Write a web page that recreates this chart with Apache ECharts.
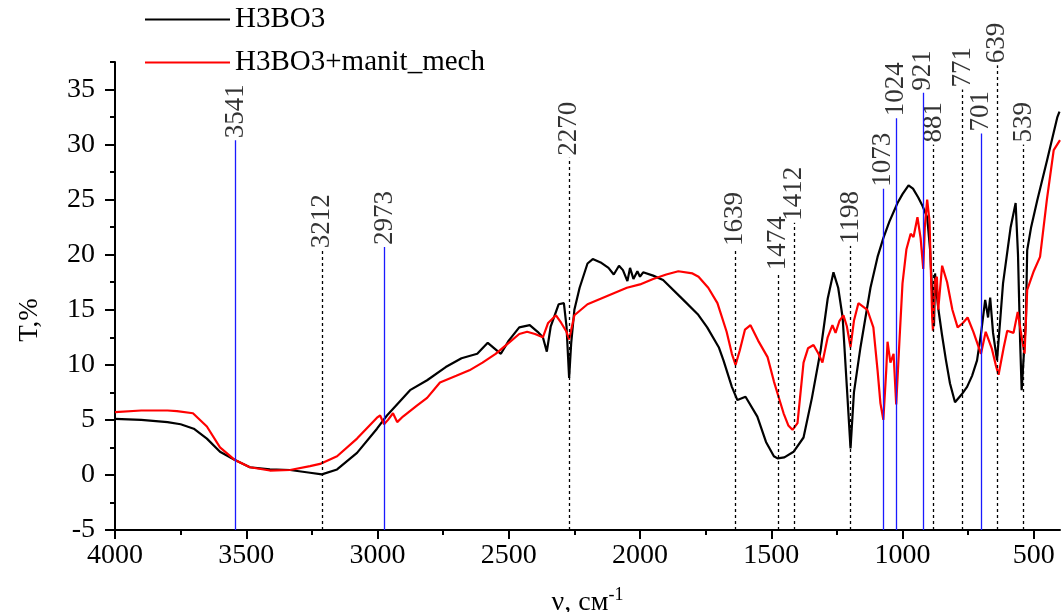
<!DOCTYPE html>
<html>
<head>
<meta charset="utf-8">
<script src="https://cdn.jsdelivr.net/npm/echarts@6/dist/echarts.min.js"></script>
<style>
  html, body { margin: 0; padding: 0; background: #fff; }
  #main { width: 1062px; height: 612px; }
</style>
</head>
<body>
<div id="main"></div>
<script>
// H3BO3 spectrum (wavenumber, T %)
const h3bo3Nu = [4000, 3900, 3800, 3750, 3700, 3650, 3600, 3543, 3486, 3410, 3333, 3257, 3212, 3154, 3078, 3002, 2964, 2876, 2811, 2740, 2680, 2620, 2580, 2555, 2530, 2500, 2460, 2420, 2390, 2370, 2355, 2340, 2310, 2290, 2280, 2270, 2262, 2250, 2230, 2200, 2180, 2150, 2120, 2100, 2080, 2065, 2048, 2038, 2025, 2010, 2000, 1988, 1950, 1912, 1835, 1780, 1744, 1700, 1682, 1650, 1629, 1598, 1553, 1520, 1490, 1476, 1450, 1415, 1377, 1345, 1312, 1285, 1263, 1245, 1228, 1212, 1198, 1185, 1160, 1122, 1095, 1073, 1050, 1019, 1000, 977, 960, 940, 925, 906, 895, 885, 880, 876, 870, 863, 850, 835, 819, 800, 775, 754, 735, 716, 700, 685, 674, 666, 655, 640, 628, 617, 600, 588, 569, 560, 552, 546, 541, 530, 525, 510, 487, 449, 430, 410, 402];
const h3bo3T = [5.1, 5.0, 4.8, 4.6, 4.2, 3.3, 2.1, 1.35, 0.7, 0.5, 0.45, 0.2, 0.05, 0.5, 2.0, 4.2, 5.4, 7.7, 8.6, 9.8, 10.6, 11.0, 12.0, 11.5, 11.0, 12.2, 13.4, 13.6, 13.0, 12.5, 11.2, 13.5, 15.5, 15.6, 13.5, 8.8, 12.0, 15.0, 17.0, 19.2, 19.6, 19.3, 18.8, 18.2, 19.0, 18.6, 17.6, 18.8, 17.8, 18.5, 18.0, 18.4, 18.1, 17.7, 15.9, 14.6, 13.4, 11.6, 10.4, 8.0, 6.8, 7.1, 5.3, 3.0, 1.7, 1.5, 1.6, 2.1, 3.4, 7.0, 11.3, 16.0, 18.4, 17.0, 14.3, 8.0, 2.4, 7.5, 11.6, 17.0, 19.8, 21.5, 23.0, 24.7, 25.5, 26.3, 26.0, 25.2, 24.5, 23.4, 20.5, 15.5, 13.5, 18.3, 16.5, 15.0, 12.8, 10.5, 8.3, 6.6, 7.3, 8.0, 9.0, 10.4, 13.0, 15.9, 14.3, 16.1, 12.9, 10.4, 14.0, 17.4, 20.4, 22.5, 24.7, 20.0, 12.2, 7.7, 7.6, 14.0, 20.4, 22.5, 24.9, 28.6, 30.5, 32.5, 33.0];

// H3BO3+manit_mech spectrum
const mechNu = [4000, 3900, 3800, 3764, 3703, 3650, 3600, 3543, 3486, 3410, 3333, 3257, 3219, 3154, 3078, 3002, 2990, 2975, 2960, 2941, 2925, 2903, 2850, 2811, 2762, 2700, 2650, 2600, 2550, 2500, 2460, 2430, 2400, 2370, 2350, 2320, 2300, 2280, 2270, 2250, 2200, 2150, 2100, 2050, 2000, 1950, 1900, 1854, 1800, 1777, 1740, 1705, 1670, 1650, 1636, 1620, 1600, 1579, 1550, 1514, 1490, 1476, 1453, 1435, 1419, 1400, 1377, 1360, 1339, 1320, 1305, 1285, 1267, 1255, 1240, 1225, 1212, 1198, 1185, 1168, 1134, 1111, 1095, 1084, 1073, 1062, 1057, 1046, 1034, 1024, 1012, 1000, 985, 969, 958, 943, 931, 921, 915, 906, 897, 887, 884, 876, 869, 864, 849, 830, 810, 790, 770, 752, 730, 701, 683, 660, 645, 634, 615, 601, 577, 561, 544, 535, 525, 500, 476, 450, 424, 400];
const mechT = [5.7, 5.85, 5.85, 5.8, 5.6, 4.4, 2.5, 1.35, 0.7, 0.4, 0.45, 0.8, 1.0, 1.7, 3.3, 5.2, 5.4, 4.6, 5.0, 5.6, 4.8, 5.3, 6.3, 7.0, 8.4, 9.0, 9.5, 10.2, 11.0, 12.0, 12.8, 13.0, 12.8, 12.5, 13.8, 14.5, 13.8, 13.0, 12.3, 14.5, 15.5, 16.0, 16.5, 17.0, 17.3, 17.8, 18.2, 18.5, 18.3, 18.0, 17.0, 15.6, 13.0, 11.0, 10.0, 11.3, 13.2, 13.6, 12.2, 10.7, 8.5, 7.4, 5.6, 4.5, 4.1, 4.7, 10.2, 11.5, 11.8, 11.0, 10.2, 12.5, 13.6, 12.9, 14.0, 14.5, 13.5, 11.6, 14.0, 15.6, 15.0, 13.4, 9.5, 6.5, 5.0, 9.5, 12.1, 10.2, 11.0, 6.4, 12.0, 17.4, 20.5, 21.9, 21.6, 23.4, 21.5, 18.7, 22.5, 25.0, 23.0, 14.3, 13.1, 17.7, 18.0, 15.0, 19.0, 17.5, 15.0, 13.4, 13.8, 14.3, 13.0, 11.0, 13.0, 11.5, 10.0, 9.1, 11.5, 13.1, 12.9, 14.8, 12.2, 11.0, 16.8, 18.5, 19.8, 25.0, 29.5, 30.4];

// band markers: wavenumber, height of marker, blue solid or black dotted
const peakNu = [3541, 3212, 2973, 2270, 1639, 1474, 1412, 1198, 1073, 1024, 921, 881, 771, 701, 639, 539];
const peakTop = [30.4, 20.4, 20.7, 28.8, 20.6, 18.4, 22.9, 20.8, 26.0, 32.4, 34.7, 30.0, 35.0, 31.0, 37.2, 30.0];
const peakBlue = [true, false, true, false, false, false, false, false, true, true, true, false, false, true, false, false];

// ticks
const xMajor = [500, 1000, 1500, 2000, 2500, 3000, 3500, 4000];
const xMinor = [750, 1250, 1750, 2250, 2750, 3250, 3750];
const yMajor = [-5, 0, 5, 10, 15, 20, 25, 30, 35];
const yMinor = [-2.5, 2.5, 7.5, 12.5, 17.5, 22.5, 27.5, 32.5, 37.5];

const FONT = "'Liberation Serif', 'Times New Roman', serif";

const chart = echarts.init(document.getElementById('main'));

const zip = (a, b) => a.map((v, i) => [v, b[i]]);

const option = {
  animation: false,
  backgroundColor: '#fff',
  grid: { left: 115, right: 2, top: 62, bottom: 82, outerBoundsMode: 'none' },
  legend: {
    data: ['H3BO3', 'H3BO3+manit_mech'],
    orient: 'vertical',
    left: 140,
    top: 0,
    itemWidth: 85,
    itemHeight: 2,
    itemGap: 14,
    icon: 'rect',
    textStyle: { fontFamily: FONT, fontSize: 29, color: '#000' }
  },
  xAxis: [{
    type: 'value',
    min: 400,
    max: 4000,
    inverse: true,
    name: '{a|ν, см}{b|-1}',
    nameLocation: 'middle',
    nameGap: 56,
    nameTextStyle: {
      rich: {
        a: { fontFamily: FONT, fontSize: 28, color: '#000' },
        b: { fontFamily: FONT, fontSize: 18, color: '#000', padding: [0, 0, 16, 0] }
      }
    },
    axisLine: { onZero: false, lineStyle: { color: '#000', width: 2 } },
    axisTick: { customValues: xMajor, length: 9, lineStyle: { color: '#000', width: 2 } },
    axisLabel: {
      customValues: xMajor,
      margin: 12,
      fontFamily: FONT,
      fontSize: 28,
      color: '#000',
      formatter: v => String(v)
    },
    splitLine: { show: false }
  }, {
    type: 'value',
    min: 400,
    max: 4000,
    inverse: true,
    position: 'bottom',
    axisLine: { show: false, onZero: false },
    axisTick: { customValues: xMinor, length: 5, lineStyle: { color: '#000', width: 2 } },
    axisLabel: { show: false },
    splitLine: { show: false }
  }],
  yAxis: [{
    type: 'value',
    min: -5,
    max: 37.5,
    name: 'T,%',
    nameLocation: 'middle',
    nameGap: 72,
    nameRotate: 90,
    nameTextStyle: { fontFamily: FONT, fontSize: 27, color: '#000', padding: [0, 48, 0, 0] },
    axisLine: { onZero: false, lineStyle: { color: '#000', width: 2 } },
    axisTick: { customValues: yMajor, length: 10, lineStyle: { color: '#000', width: 2 } },
    axisLabel: { customValues: yMajor, margin: 20, fontFamily: FONT, fontSize: 28, color: '#000' },
    splitLine: { show: false }
  }, {
    type: 'value',
    min: -5,
    max: 37.5,
    position: 'left',
    axisLine: { show: false, onZero: false },
    axisTick: { customValues: yMinor, length: 5, lineStyle: { color: '#000', width: 2 } },
    axisLabel: { show: false },
    splitLine: { show: false }
  }],
  series: [
    {
      name: 'peaks',
      type: 'scatter',
      symbolSize: 0,
      z: 1,
      data: zip(peakNu, peakTop),
      label: {
        show: true,
        position: 'top',
        distance: 2,
        rotate: 90,
        align: 'left',
        verticalAlign: 'middle',
        fontFamily: FONT,
        fontSize: 27,
        color: '#000',
        formatter: p => String(p.value[0])
      },
      markLine: {
        silent: true,
        symbol: ['none', 'none'],
        label: { show: false },
        data: peakNu.map((nu, i) => [
          {
            coord: [nu, -5],
            lineStyle: peakBlue[i]
              ? { color: '#1a1aff', width: 1.3, type: 'solid' }
              : { color: '#000', width: 1.3, type: [3, 3] }
          },
          { coord: [nu, peakTop[i]] }
        ])
      }
    },
    {
      name: 'H3BO3',
      type: 'line',
      showSymbol: false,
      z: 3,
      color: '#000',
      lineStyle: { color: '#000', width: 2.2 },
      data: zip(h3bo3Nu, h3bo3T)
    },
    {
      name: 'H3BO3+manit_mech',
      type: 'line',
      showSymbol: false,
      z: 4,
      color: '#ff0000',
      lineStyle: { color: '#ff0000', width: 2.2 },
      data: zip(mechNu, mechT)
    }
  ]
};

chart.setOption(option);
</script>
</body>
</html>
